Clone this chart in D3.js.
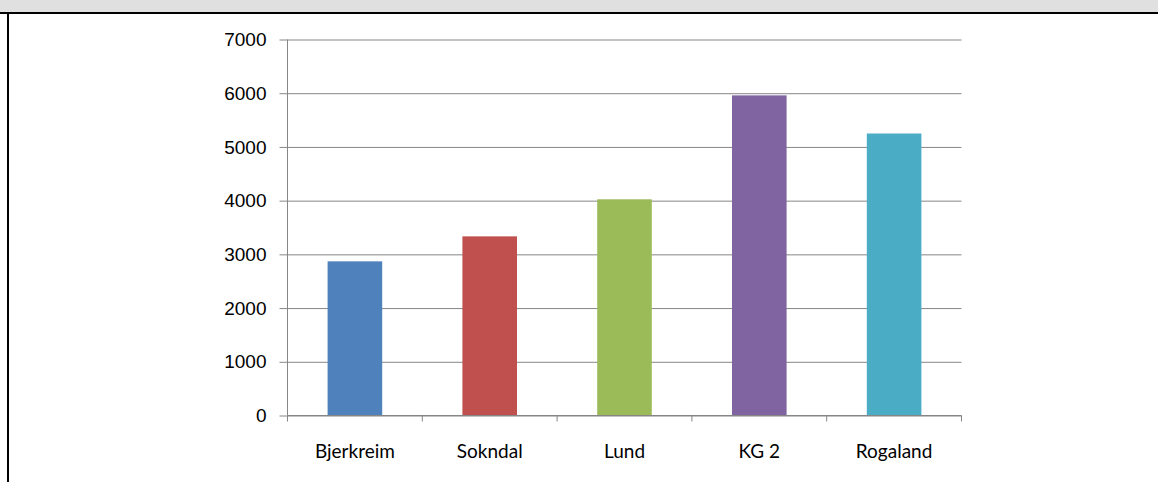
<!DOCTYPE html>
<html>
<head>
<meta charset="utf-8">
<script src="https://cdn.jsdelivr.net/npm/d3@7"></script>
<style>
  body { margin: 0; background: #fff; }
  svg { display: block; font-family: Lato, "Open Sans", sans-serif; }
</style>
</head>
<body>
<div id="chart"></div>
<script>
// chart data
const categories = ['Bjerkreim', 'Sokndal', 'Lund', 'KG 2', 'Rogaland'];
const values = [2870, 3335, 4025, 5960, 5250];
const barColors = ['#4F81BD', '#C0504D', '#9BBB59', '#8064A2', '#4BACC6'];
const yTicks = [0, 1000, 2000, 3000, 4000, 5000, 6000, 7000];

const width = 1158;
const height = 482;
const plot = { left: 287.5, right: 961.5, top: 39.5, bottom: 415.5 };
const fontSize = 19;

const svg = d3.select('#chart')
  .append('svg')
  .attr('width', width)
  .attr('height', height);

// frame: grey strip on top, black rule, left black border
svg.append('rect').attr('x', 0).attr('y', 0).attr('width', width).attr('height', 12).attr('fill', '#e0e0e0');
svg.append('rect').attr('x', 0).attr('y', 12).attr('width', width).attr('height', 2).attr('fill', '#000');
svg.append('rect').attr('x', 7).attr('y', 12).attr('width', 2).attr('height', height).attr('fill', '#000');

const x = d3.scaleBand()
  .domain(categories)
  .range([plot.left, plot.right])
  .paddingInner(0.595)
  .paddingOuter(0.2975);

const band = d3.scaleBand().domain(categories).range([plot.left, plot.right]);

const y = d3.scaleLinear().domain([0, 7000]).range([plot.bottom, plot.top]);

// gridlines
svg.append('g')
  .attr('class', 'grid')
  .attr('transform', `translate(${plot.left},0)`)
  .call(d3.axisLeft(y).tickValues(yTicks).tickFormat('').tickSize(-(plot.right - plot.left)))
  .call(g => g.select('.domain').remove())
  .call(g => g.selectAll('line').attr('stroke', '#868686').attr('stroke-width', 1));

// bars
svg.append('g')
  .selectAll('rect')
  .data(values)
  .join('rect')
  .attr('x', (d, i) => x(categories[i]))
  .attr('y', d => y(d))
  .attr('width', x.bandwidth())
  .attr('height', d => y(0) - y(d))
  .attr('fill', (d, i) => barColors[i]);

// y axis
svg.append('g')
  .attr('transform', `translate(${plot.left},0)`)
  .call(d3.axisLeft(y).tickValues(yTicks).tickSize(8).tickPadding(13).tickFormat(d => d))
  .call(g => g.select('.domain').attr('stroke', '#868686').attr('d', `M0,${plot.top}V${plot.bottom}`))
  .call(g => g.selectAll('line').attr('stroke', '#868686'))
  .call(g => g.selectAll('text').attr('fill', '#000').attr('font-size', fontSize));

// x axis
const xAxis = svg.append('g')
  .attr('transform', `translate(0,${plot.bottom})`);
xAxis.append('line')
  .attr('x1', plot.left).attr('x2', plot.right)
  .attr('stroke', '#868686');
xAxis.selectAll('.tick')
  .data(categories.concat(['end']))
  .join('line')
  .attr('x1', (d, i) => i < categories.length ? band(d) : plot.right)
  .attr('x2', (d, i) => i < categories.length ? band(d) : plot.right)
  .attr('y1', 0).attr('y2', 6)
  .attr('stroke', '#868686');
xAxis.selectAll('text')
  .data(categories)
  .join('text')
  .attr('x', d => band(d) + band.bandwidth() / 2)
  .attr('y', 42)
  .attr('text-anchor', 'middle')
  .attr('font-size', fontSize)
  .attr('fill', '#000')
  .text(d => d);
</script>
</body>
</html>
